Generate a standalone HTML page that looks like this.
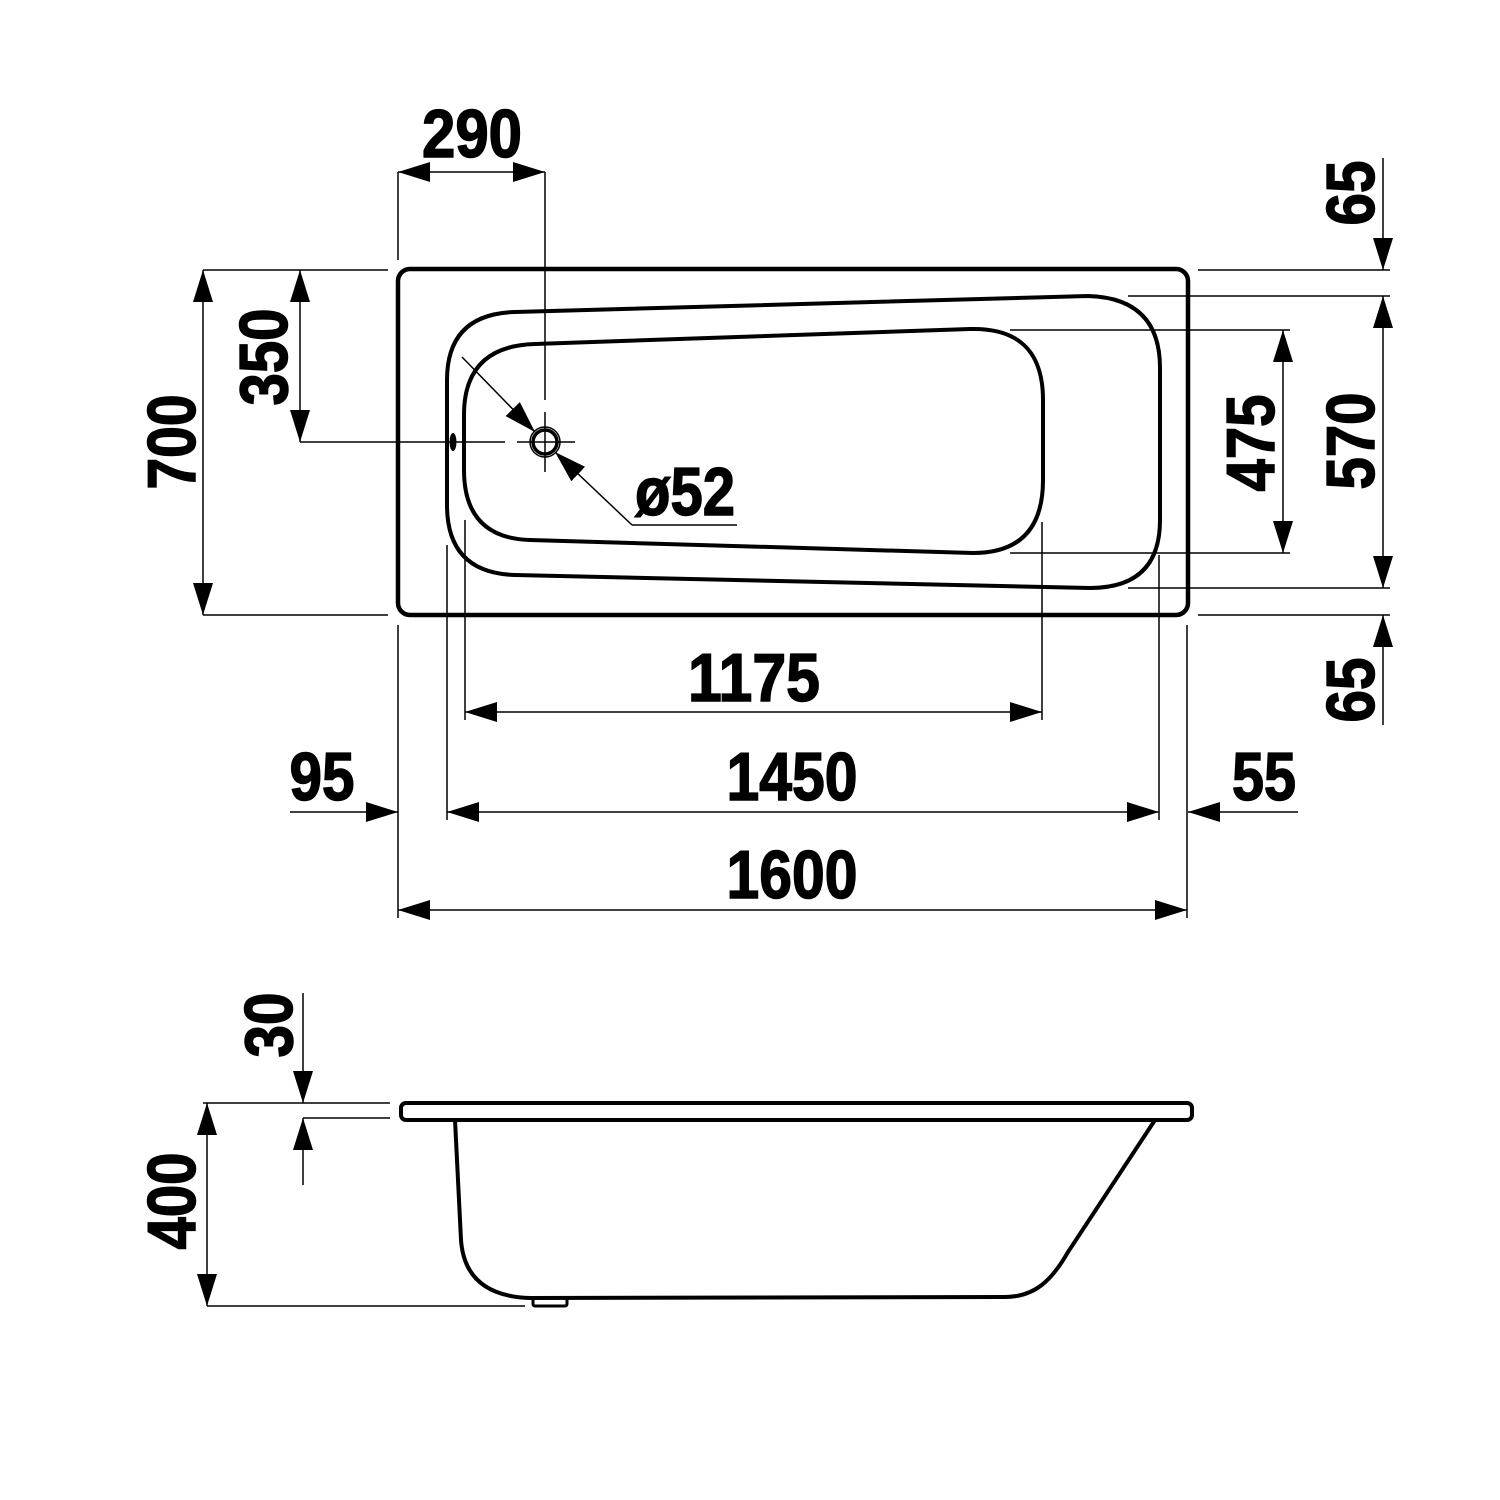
<!DOCTYPE html>
<html><head><meta charset="utf-8"><style>html,body{margin:0;padding:0;background:#fff}svg{display:block}</style></head><body>
<svg width="1500" height="1500" viewBox="0 0 1500 1500" xmlns="http://www.w3.org/2000/svg">
<defs>
<marker id="a" viewBox="0 0 32 20" refX="32" refY="10" markerWidth="32" markerHeight="20" markerUnits="userSpaceOnUse" orient="auto"><path d="M0,0 L32,10 L0,20 Z" fill="#000"/></marker>
<marker id="s" viewBox="0 0 32 20" refX="0" refY="10" markerWidth="32" markerHeight="20" markerUnits="userSpaceOnUse" orient="auto"><path d="M32,0 L0,10 L32,20 Z" fill="#000"/></marker>
</defs>
<g fill="none" stroke="#000">
<rect x="398" y="269" width="790" height="346" rx="12" stroke-width="4.5"/>
<path d="M515,312 L1088,296 Q1160,298 1160,368 L1160,520 Q1160,588 1090,588 L515,575 Q447,573 447,505 L447,380 Q447,314 515,312 Z" stroke-width="4"/>
<path d="M535,344 L970,329 Q1043,327 1043,400 L1043,480 Q1043,553 973,553 L530,540 Q464,538 464,470 L464,415 Q464,346 535,344 Z" stroke-width="4"/>
<circle cx="545" cy="442" r="15" stroke-width="1.5"/>
<circle cx="545" cy="442" r="12" stroke-width="3.5"/>
<ellipse cx="453" cy="442" rx="3.5" ry="9" fill="#000" stroke="none"/>
<g stroke-width="1.5">
<line x1="545" y1="172" x2="545" y2="400"/>
<line x1="545" y1="412" x2="545" y2="472"/>
<line x1="300" y1="442" x2="505" y2="442"/>
<line x1="517" y1="442" x2="575" y2="442"/>
<line x1="398" y1="172" x2="398" y2="260"/>
<line x1="398" y1="172" x2="545" y2="172" marker-start="url(#s)" marker-end="url(#a)"/>
<line x1="203" y1="270" x2="388" y2="270"/>
<line x1="203" y1="615" x2="388" y2="615"/>
<line x1="203" y1="270" x2="203" y2="615" marker-start="url(#s)" marker-end="url(#a)"/>
<line x1="300" y1="270" x2="300" y2="442" marker-start="url(#s)" marker-end="url(#a)"/>
<line x1="1198" y1="270" x2="1390" y2="270"/>
<line x1="1198" y1="615" x2="1390" y2="615"/>
<line x1="1383" y1="158" x2="1383" y2="270" marker-end="url(#a)"/>
<line x1="1383" y1="725" x2="1383" y2="615" marker-end="url(#a)"/>
<line x1="1128" y1="296" x2="1390" y2="296"/>
<line x1="1128" y1="588" x2="1390" y2="588"/>
<line x1="1383" y1="296" x2="1383" y2="588" marker-start="url(#s)" marker-end="url(#a)"/>
<line x1="1010" y1="330" x2="1290" y2="330"/>
<line x1="1010" y1="553" x2="1290" y2="553"/>
<line x1="1283" y1="330" x2="1283" y2="553" marker-start="url(#s)" marker-end="url(#a)"/>
<line x1="465" y1="520" x2="465" y2="720"/>
<line x1="1042" y1="522" x2="1042" y2="720"/>
<line x1="465" y1="712" x2="1042" y2="712" marker-start="url(#s)" marker-end="url(#a)"/>
<line x1="447" y1="545" x2="447" y2="820"/>
<line x1="1159" y1="555" x2="1159" y2="820"/>
<line x1="447" y1="812" x2="1159" y2="812" marker-start="url(#s)" marker-end="url(#a)"/>
<line x1="290" y1="812" x2="398" y2="812" marker-end="url(#a)"/>
<line x1="1298" y1="812" x2="1188" y2="812" marker-end="url(#a)"/>
<line x1="398" y1="625" x2="398" y2="918"/>
<line x1="1187" y1="625" x2="1187" y2="918"/>
<line x1="398" y1="910" x2="1187" y2="910" marker-start="url(#s)" marker-end="url(#a)"/>
<line x1="462" y1="357" x2="535" y2="432" marker-end="url(#a)"/>
<line x1="632" y1="525" x2="555" y2="452" marker-end="url(#a)"/>
<line x1="632" y1="525" x2="737" y2="525"/>
</g>
<rect x="401" y="1103" width="791" height="17" rx="5" stroke-width="4"/>
<path d="M455,1120 L461,1240 Q465,1296 530,1298 L1005,1297 C1035,1297 1052,1280 1068,1252 L1155,1120" stroke-width="4"/>
<rect x="533" y="1298" width="34" height="8" rx="2" stroke-width="3"/>
<g stroke-width="1.5">
<line x1="203" y1="1103" x2="390" y2="1103"/>
<line x1="303" y1="1118" x2="390" y2="1118"/>
<line x1="207" y1="1306" x2="525" y2="1306"/>
<line x1="303" y1="993" x2="303" y2="1103" marker-end="url(#a)"/>
<line x1="303" y1="1185" x2="303" y2="1118" marker-end="url(#a)"/>
<line x1="207" y1="1103" x2="207" y2="1306" marker-start="url(#s)" marker-end="url(#a)"/>
</g>
</g>
<g font-family="'Liberation Sans Narrow','Liberation Sans',sans-serif" font-weight="bold" font-size="68" fill="#000" stroke="#000" stroke-width="1.5" text-anchor="middle">
<text x="472" y="157" textLength="100" lengthAdjust="spacingAndGlyphs">290</text>
<text x="754" y="701" textLength="132" lengthAdjust="spacingAndGlyphs">1175</text>
<text x="792" y="800" textLength="131" lengthAdjust="spacingAndGlyphs">1450</text>
<text x="792" y="898" textLength="131" lengthAdjust="spacingAndGlyphs">1600</text>
<text x="322" y="800" textLength="65" lengthAdjust="spacingAndGlyphs">95</text>
<text x="1264" y="800" textLength="64" lengthAdjust="spacingAndGlyphs">55</text>
<text x="685" y="515" textLength="100" lengthAdjust="spacingAndGlyphs">ø52</text>
<text transform="translate(195,442) rotate(-90)" textLength="95" lengthAdjust="spacingAndGlyphs">700</text>
<text transform="translate(287,357) rotate(-90)" textLength="97" lengthAdjust="spacingAndGlyphs">350</text>
<text transform="translate(1274,443) rotate(-90)" textLength="97" lengthAdjust="spacingAndGlyphs">475</text>
<text transform="translate(1374,441) rotate(-90)" textLength="97" lengthAdjust="spacingAndGlyphs">570</text>
<text transform="translate(1374,193) rotate(-90)" textLength="65" lengthAdjust="spacingAndGlyphs">65</text>
<text transform="translate(1374,690) rotate(-90)" textLength="65" lengthAdjust="spacingAndGlyphs">65</text>
<text transform="translate(195,1201) rotate(-90)" textLength="97" lengthAdjust="spacingAndGlyphs">400</text>
<text transform="translate(292,1025) rotate(-90)" textLength="65" lengthAdjust="spacingAndGlyphs">30</text>
</g>
</svg>
</body></html>
